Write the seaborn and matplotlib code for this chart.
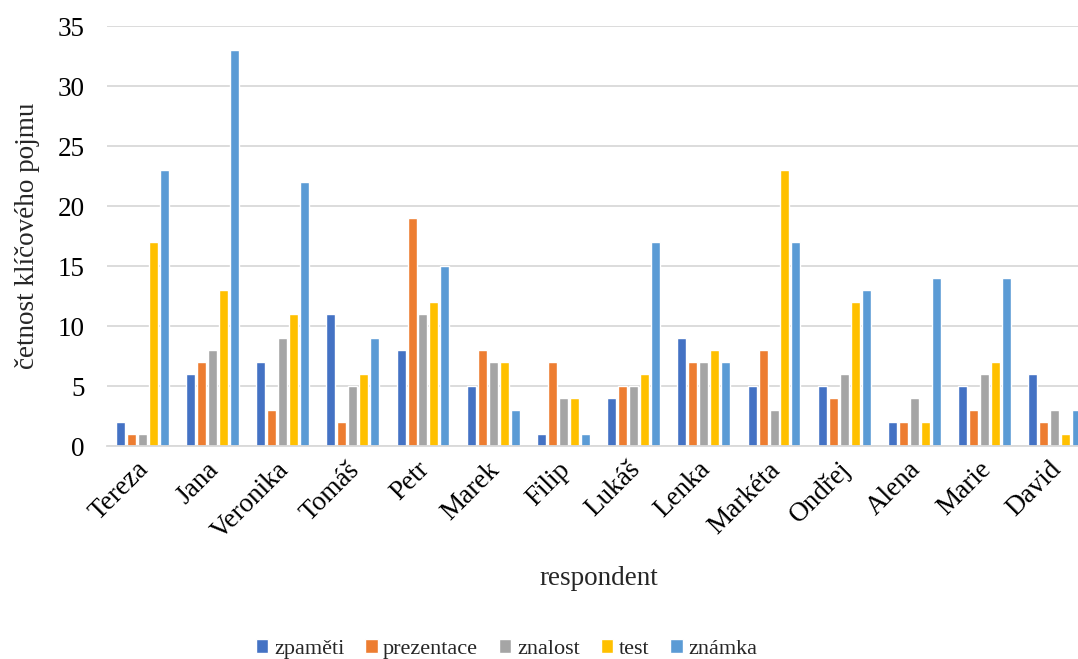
import matplotlib.pyplot as plt
import matplotlib.transforms as mtransforms
import pandas as pd
import seaborn as sns

respondents = ['Tereza', 'Jana', 'Veronika', 'Tomáš', 'Petr', 'Marek', 'Filip',
               'Lukáš', 'Lenka', 'Markéta', 'Ondřej', 'Alena', 'Marie', 'David']
zpameti = [2, 6, 7, 11, 8, 5, 1, 4, 9, 5, 5, 2, 5, 6]
prezentace = [1, 7, 3, 2, 19, 8, 7, 5, 7, 8, 4, 2, 3, 2]
znalost = [1, 8, 9, 5, 11, 7, 4, 5, 7, 3, 6, 4, 6, 3]
test = [17, 13, 11, 6, 12, 7, 4, 6, 8, 23, 12, 2, 7, 1]
znamka = [23, 33, 22, 9, 15, 3, 1, 17, 7, 17, 13, 14, 14, 3]

series = ['zpaměti', 'prezentace', 'znalost', 'test', 'známka']
colors = ['#4472C4', '#ED7D31', '#A5A5A5', '#FFC000', '#5B9BD5']

# long format for seaborn
rows = []
for name, vals in zip(series, [zpameti, prezentace, znalost, test, znamka]):
    for r, v in zip(respondents, vals):
        rows.append((r, name, v))
df = pd.DataFrame(rows, columns=['respondent', 'pojem', 'cetnost'])

sns.set_style('white')
plt.rcParams['font.family'] = ['Liberation Serif', 'DejaVu Serif']

fig = plt.figure(figsize=(10.78, 6.59), dpi=100)
ax = fig.add_axes([107 / 1078, 1 - 446 / 659, 983 / 1078, 420 / 659])

sns.barplot(data=df, x='respondent', y='cetnost', hue='pojem', order=respondents,
            hue_order=series, palette=colors, width=0.78, gap=0.18, ax=ax,
            legend=True, saturation=1)

ax.set_xlim(-0.5, len(respondents) - 0.5)
ax.set_ylim(0, 35)
ax.set_yticks(range(0, 36, 5))
ax.yaxis.grid(True, color='#D9D9D9', linewidth=1.3)
ax.set_axisbelow(True)
for s in ['top', 'right', 'left']:
    ax.spines[s].set_visible(False)
ax.spines['bottom'].set_color('#D9D9D9')
ax.spines['bottom'].set_linewidth(1.3)
ax.tick_params(axis='both', length=0, labelsize=19.5, colors='black')
ax.tick_params(axis='y', pad=16)
ax.tick_params(axis='x', pad=8)
shift = mtransforms.ScaledTranslation(-6 / 100, 0, fig.dpi_scale_trans)
for lab in ax.get_xticklabels():
    lab.set_rotation(45)
    lab.set_ha('right')
    lab.set_rotation_mode('anchor')
    lab.set_transform(lab.get_transform() + shift)

ax.set_xlabel('respondent', fontsize=19.5, labelpad=16)
ax.set_ylabel('četnost klíčového pojmu', fontsize=19.5, labelpad=13)

handles, labels = ax.get_legend_handles_labels()
ax.get_legend().remove()
fig.legend(handles, labels, loc='lower center', bbox_to_anchor=(0.47, -0.03),
           ncol=5, frameon=False, fontsize=16, handlelength=0.55, handleheight=0.55,
           handletextpad=0.25, columnspacing=0.95)

fig.savefig('out.png', dpi=100)
